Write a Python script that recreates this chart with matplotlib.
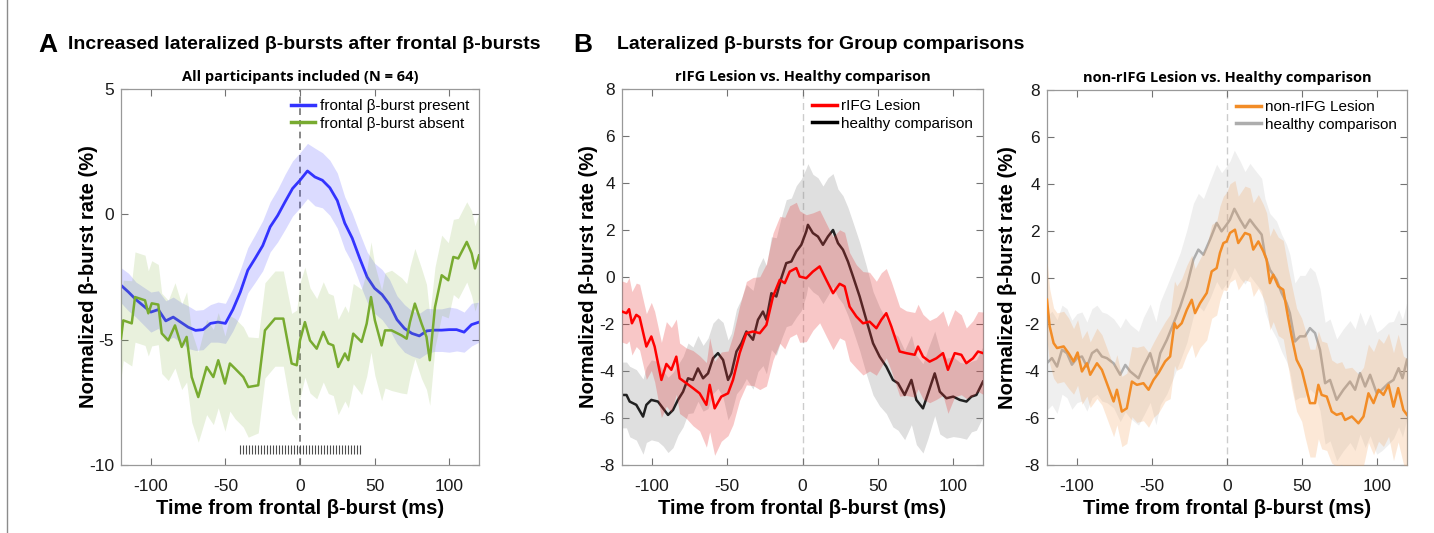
import numpy as np
import matplotlib
matplotlib.use("Agg")
import matplotlib.pyplot as plt
from matplotlib.lines import Line2D

plt.rcParams['font.family'] = ['Liberation Sans', 'DejaVu Sans']
plt.rcParams['axes.unicode_minus'] = False

# ---------------- Panel A data ----------------
tA_blue = list(range(-120, 121, 5))
blue_mean = [-2.83,-3.1,-3.4,-3.65,-3.9,-3.8,-4.25,-4.1,-4.3,-4.5,
             -4.63,-4.6,-4.35,-4.3,-4.35,-3.8,-3.1,-2.23,-1.75,-1.25,
             -0.5,-0.05,0.5,1.03,1.36,1.73,1.49,1.36,1.06,0.55,
             -0.35,-0.95,-1.75,-2.5,-2.95,-3.2,-3.6,-4.2,-4.55,-4.75,
             -4.85,-4.65,-4.62,-4.62,-4.6,-4.6,-4.7,-4.4,-4.3]
blue_err = [0.7,0.75,0.7,0.75,0.8,0.75,0.8,0.8,0.8,0.85,0.8,0.8,0.75,0.8,0.8,
            0.85,0.9,0.9,0.95,1.0,1.0,1.05,1.1,1.1,1.1,
            1.1,1.15,1.1,1.1,1.1,1.05,1.0,1.0,1.0,1.0,
            1.0,1.0,0.95,0.95,0.9,0.9,0.9,0.85,0.85,0.9,
            0.85,0.8,0.85,0.8]

tA_green = [-120,-118.5,-112.8,-110.6,-103.9,-101.7,-99.4,-95,-92.7,-88.3,
            -83.8,-79.3,-76,-72.6,-68.2,-62.6,-58.1,-54.8,-50.3,-47,
            -43.6,-38,-34.7,-28,-23.5,-16.8,-11.2,-5.6,-2.2,0,
            3.3,6.7,11.2,15.6,19,22.3,25.6,30.1,32.4,35.7,
            41.3,44.7,47.6,50.2,54.7,57,61.4,68.1,71.5,73.7,
            77,81.5,84.8,87,90.5,95,99.4,102.8,106.1,111.8,
            115.1,117.3,120]
green_mean = [-4.95,-4.23,-4.35,-3.3,-3.43,-3.95,-3.55,-3.6,-4.75,-5.03,
              -4.43,-5.29,-4.89,-6.49,-7.29,-6.09,-6.49,-5.82,-6.75,-5.95,
              -6.15,-6.49,-6.89,-6.82,-4.63,-4.16,-4.16,-5.95,-6.02,-5.03,
              -4.3,-5.03,-5.36,-4.69,-5.15,-5.23,-6.09,-5.55,-5.82,-4.76,
              -5.09,-4.36,-3.3,-4.23,-5.23,-4.63,-4.63,-4.83,-4.96,-4.3,
              -3.56,-4.36,-4.89,-5.82,-3.7,-2.43,-2.63,-1.7,-1.76,-1.1,
              -1.56,-2.16,-1.64]
green_err = [1.6,1.6,1.7,1.8,1.8,1.7,1.7,1.6,1.6,1.6,
             1.7,1.7,1.8,1.8,1.8,1.9,1.9,1.9,1.9,1.9,
             2.0,2.0,2.0,1.9,1.9,1.9,1.9,2.0,2.2,2.3,
             2.2,2.1,2.0,2.0,2.0,2.0,1.9,1.9,1.9,2.0,
             2.1,2.1,2.2,2.2,2.2,2.3,2.4,2.3,2.2,2.2,
             2.2,2.2,2.1,1.8,1.6,1.6,1.5,1.5,1.6,1.6,
             1.7,1.7,1.7]
sig_start, sig_end, sig_step = -40, 38, 2
sig_extra = [40]

# ---------------- Panel B1 data ----------------
t_red = [-120,-117,-115.3,-113.4,-110.5,-108.3,-103.8,-100.5,-98.3,-93.8,
         -90.5,-87.2,-83.9,-81.7,-77.2,-72.8,-68.4,-63.9,-61.7,-58.4,
         -54,-49.5,-46.2,-41.8,-37.3,-32.9,-28.4,-24,-19.6,-15.1,
         -11.8,-8.5,-4.1,-1.9,2.5,6.9,11.4,15.8,20.3,24.7,
         28,31.3,35.8,40.2,44.6,49.1,52.4,55.7,59.1,64.6,
         69,74.6,76.8,80.1,84.5,89,93.4,96.7,101.2,105.6,
         108.9,113.3,116.7,120]
red_mean = [-1.47,-1.54,-1.37,-1.97,-1.61,-1.71,-2.96,-2.53,-2.96,-4.38,
            -3.7,-3.95,-3.39,-4.31,-4.52,-4.73,-4.95,-5.44,-4.59,-5.59,
            -5.09,-4.95,-4.38,-3.24,-2.39,-2.32,-2.39,-2.04,-0.83,-0.12,
            -0.26,0.23,0.38,0.02,-0.05,0.23,0.45,-0.12,-0.69,-0.29,
            -0.4,-1.26,-1.68,-1.97,-1.9,-2.18,-1.82,-1.54,-2.11,-3.17,
            -3.24,-3.31,-2.96,-3.39,-3.6,-3.46,-3.24,-3.95,-3.24,-3.31,
            -3.67,-3.46,-3.17,-3.24]
red_err = [1.3,1.3,1.35,1.35,1.35,1.4,1.4,1.45,1.5,1.6,
           1.8,1.8,1.6,1.5,1.5,1.6,1.6,1.8,2.0,2.0,
           1.9,1.8,1.9,2.0,2.2,2.3,2.4,2.6,2.7,2.7,
           2.8,2.8,2.8,2.8,2.7,2.5,2.4,2.4,2.4,2.3,
           2.3,2.3,2.2,2.2,2.1,2.0,2.0,1.9,1.9,1.9,
           1.8,1.8,1.8,1.8,1.75,1.75,1.8,1.85,1.85,1.7,
           1.5,1.6,1.7,1.75]

t_blk = [-120,-117,-114.9,-110.5,-106,-103.8,-100.5,-96.1,-92.7,-89.4,
         -86.1,-82.8,-79.4,-76.1,-72.8,-69.5,-66.1,-62.8,-59.5,-56.2,
         -52.8,-49.5,-47.3,-43.9,-40.6,-37.3,-32.9,-29.6,-26.3,-24,
         -20.7,-17.4,-14.1,-10.8,-7.4,-4.1,-0.8,2.5,3.6,6.9,
         10.3,13.6,16.9,20.3,23.6,26.9,30.2,33.6,38,42.4,
         46.9,51.3,55.7,60.1,63.5,67.9,72.4,75.7,80.1,83.5,
         87.9,91.3,95.7,100.2,104.6,109,112.3,115.6,120]
blk_mean = [-5.02,-5.02,-5.3,-5.44,-5.94,-5.44,-5.23,-5.3,-5.59,-5.87,
            -5.66,-5.23,-4.88,-4.31,-4.38,-3.89,-4.31,-4.1,-3.46,-3.24,
            -3.53,-4.38,-4.1,-3.17,-2.82,-2.32,-2.67,-1.82,-1.47,-1.82,
            -0.69,-0.83,-0.05,0.59,0.66,1.09,1.37,1.94,2.22,1.87,
            1.72,1.37,1.72,2.0,1.44,1.16,0.66,0.02,-0.83,-1.82,
            -2.82,-3.39,-3.81,-4.38,-4.52,-5.02,-4.38,-5.23,-5.59,-4.95,
            -4.1,-4.88,-5.16,-5.09,-5.23,-5.3,-5.09,-5.02,-4.45]
blk_err = [1.4,1.4,1.5,1.5,1.6,1.6,1.7,1.7,1.6,1.6,
           1.6,1.5,1.5,1.5,1.4,1.4,1.4,1.5,1.5,1.5,
           1.6,1.7,1.7,1.8,1.9,2.0,2.1,2.2,2.3,2.3,
           2.4,2.5,2.6,2.7,2.7,2.8,2.8,2.7,2.6,2.5,
           2.5,2.5,2.5,2.4,2.3,2.3,2.3,2.3,2.3,2.3,
           2.2,2.1,2.0,2.0,2.0,1.9,1.9,1.9,1.9,1.9,
           1.8,1.8,1.7,1.7,1.6,1.6,1.5,1.5,1.5]

# ---------------- Panel B2 data ----------------
t_org = [-120,-118.2,-115.6,-113.3,-108.9,-105.6,-102.3,-99.6,-96.7,-93.4,
         -91.2,-86.7,-83.4,-80.1,-75.6,-73.4,-70.1,-66.8,-63.4,-60.1,
         -55.7,-52.3,-49,-45.7,-41.2,-37.9,-35,-33.5,-30.2,-26.8,
         -23.5,-21.3,-18,-13.5,-10.2,-6.9,-4.7,-2.4,-0.2,2,
         5.3,7.5,12,15.3,17.5,20.9,24.2,26.4,28.6,30.8,
         34.2,37.5,40.8,43.1,46.4,49.8,52,55.3,58.7,60.9,
         63.1,66.5,69.8,73.1,76.5,78.7,83.2,87.6,91,94.3,
         97.7,101,104.3,107.7,111,114.1,117.6,120]
org_mean = [-0.95,-2.09,-2.8,-3.01,-2.94,-3.23,-3.58,-3.2,-4.01,-3.66,
            -4.15,-3.66,-3.94,-4.51,-5.29,-4.79,-5.72,-5.58,-4.44,-4.58,
            -4.51,-4.79,-4.37,-4.08,-3.58,-3.37,-1.95,-2.16,-1.95,-1.38,
            -0.95,-1.52,-1.1,-0.66,0.26,0.4,1.05,1.47,1.54,1.9,
            2.04,1.47,1.9,1.82,1.19,1.54,1.12,0.76,-0.24,0.12,
            -0.38,-0.52,-1.73,-2.51,-3.51,-3.94,-4.51,-5.36,-5.36,-4.58,
            -5.01,-5.08,-5.72,-5.86,-5.79,-6.08,-5.93,-6.22,-5.93,-4.94,
            -5.36,-4.79,-5.01,-4.58,-5.51,-4.72,-5.65,-5.86]
org_err = [1.7,1.6,1.5,1.5,1.5,1.5,1.4,1.4,1.4,1.4,
           1.4,1.5,1.5,1.5,1.5,1.5,1.5,1.5,1.5,1.6,
           1.6,1.6,1.6,1.7,1.7,1.8,1.8,1.8,1.9,1.9,
           1.9,1.9,1.9,2.0,2.0,2.0,2.0,2.0,2.1,2.1,
           2.1,2.0,2.0,2.0,2.0,2.0,2.0,2.0,2.0,2.0,
           2.1,2.1,2.1,2.2,2.2,2.2,2.3,2.3,2.3,2.3,
           2.3,2.3,2.2,2.2,2.2,2.2,2.1,2.1,2.1,2.1,
           2.2,2.2,2.2,2.2,2.3,2.3,2.3,2.4]

t_gry = [-120,-116.7,-113.3,-110,-106.7,-103.4,-100,-96.7,-93.4,-90,
         -86.7,-83.4,-80.1,-75.6,-71.2,-67.8,-64.5,-59,-55.7,-51.2,
         -47.4,-44.5,-40.1,-35.6,-31.2,-26.8,-22.4,-19.1,-15.7,-11.3,
         -6.9,-3.6,-0.2,2,4.9,8.7,12,15.3,18.6,23.1,
         25.3,28.6,33,36.4,39.7,41.9,45.3,48.6,52,55.3,
         58.7,62,65.4,68.7,73.1,77.6,82,85.4,88.7,92.1,
         95.4,99.8,103.2,107.7,111,114.4,117,120]
gry_mean = [-3.65,-3.44,-3.8,-3.08,-3.23,-3.72,-3.44,-3.37,-3.8,-3.23,
            -3.08,-3.37,-3.44,-3.66,-4.15,-3.73,-4.01,-4.3,-3.8,-3.23,
            -4.08,-3.23,-2.66,-1.95,-1.24,-0.38,0.76,1.19,0.97,1.62,
            2.33,1.97,2.26,2.47,2.93,2.47,2.12,2.47,2.19,1.83,
            0.97,0.33,-0.09,-0.66,-1.09,-1.52,-2.73,-2.51,-2.51,-2.16,
            -2.37,-3.08,-4.51,-4.37,-5.22,-4.79,-4.44,-4.79,-4.08,-4.65,
            -4.15,-4.94,-4.79,-4.51,-4.37,-3.87,-4.3,-3.51]
gry_err = [2.0,2.0,2.0,1.9,1.9,1.9,1.9,1.9,1.9,1.9,
           1.9,1.9,1.9,1.9,2.0,2.0,2.0,2.0,2.1,2.1,
           2.2,2.2,2.3,2.3,2.3,2.4,2.4,2.4,2.4,2.5,
           2.5,2.5,2.5,2.5,2.5,2.5,2.4,2.4,2.4,2.4,
           2.4,2.4,2.5,2.5,2.5,2.5,2.5,2.6,2.6,2.6,
           2.6,2.6,2.6,2.6,2.6,2.6,2.6,2.6,2.6,2.6,
           2.6,2.6,2.6,2.6,2.5,2.5,2.5,2.5]

x_ticks = [-100, -50, 0, 50, 100]

# ---------------- Figure ----------------
W, H = 1434, 533
fig = plt.figure(figsize=(W / 100, H / 100), dpi=100)


def px_axes(left, top, right, bottom):
    return fig.add_axes([left / W, 1 - bottom / H, (right - left) / W, (bottom - top) / H])


def style(ax, ylim, yticks, zero_color, zero_lw, dash, ylab_x):
    ax.set_xlim(-120, 120)
    ax.set_ylim(*ylim)
    ax.set_xticks(x_ticks)
    ax.set_xticklabels([str(v) for v in x_ticks])
    ax.set_yticks(yticks)
    ax.set_yticklabels([str(v) for v in yticks])
    ax.tick_params(direction='in', top=True, right=True, length=5, width=0.8,
                   color='0.45', labelsize=12.5, labelcolor='0.1')
    ax.tick_params(axis='x', pad=10)
    ax.tick_params(axis='y', pad=5)
    for s in ax.spines.values():
        s.set_color('0.6')
        s.set_linewidth(0.9)
    ax.axvline(0, color=zero_color, lw=zero_lw, dashes=dash, zorder=1)
    ax.set_xlabel('Time from frontal β-burst (ms)', fontsize=14.5, fontweight='bold', labelpad=4)
    ax.set_ylabel('Normalized β-burst rate (%)', fontsize=14.5, fontweight='bold')
    ax.yaxis.set_label_coords(ylab_x, 0.5)


def shaded(ax, t, m, e, lc, fc, falpha, z, lw=1.8, lalpha=1.0, label=None):
    t = np.asarray(t, float); m = np.asarray(m, float); e = np.asarray(e, float)
    ax.fill_between(t, m - e, m + e, color=fc, alpha=falpha, lw=0, zorder=z)
    ax.plot(t, m, color=lc, lw=lw, alpha=lalpha, zorder=z + 0.5, label=label)


# Panel A
axA = px_axes(121, 89, 479, 465)
style(axA, (-10, 5), [-10, -5, 0, 5], '0.45', 1.2, (4, 3), (98 - 121) / 358)
shaded(axA, tA_blue, blue_mean, blue_err, (0.2, 0.2, 1.0), (0.3, 0.3, 1.0), 0.2, 2, lw=2.0,
       label='frontal β-burst present')
shaded(axA, tA_green, green_mean, green_err, (0.47, 0.67, 0.19), (0.47, 0.67, 0.19), 0.16, 3, lw=1.8,
       label='frontal β-burst absent')
sig_t = list(np.arange(sig_start, sig_end + 1, sig_step)) + sig_extra
axA.vlines(sig_t, -9.55, -9.2, color='0.3', lw=0.8, zorder=4)
axA.set_title('All participants included (N = 64)', fontsize=10.5, fontweight='bold',
              family=['Open Sans', 'DejaVu Sans'], pad=6)
legA = axA.legend(loc='upper right', frameon=False, fontsize=11, handlelength=1.6,
                  handletextpad=0.3, labelspacing=0.25, borderaxespad=0.25)
for h in legA.get_lines():
    h.set_linewidth(2.5); h.set_alpha(1)

# Panel B1
axB1 = px_axes(622, 89, 983, 465)
style(axB1, (-8, 8), list(range(-8, 9, 2)), '0.8', 1.0, (5, 3), (598 - 622) / 361)
shaded(axB1, t_blk, blk_mean, blk_err, (0.13, 0.13, 0.13), (0.55, 0.55, 0.55), 0.28, 2, lw=1.8,
       label='healthy comparison')
shaded(axB1, t_red, red_mean, red_err, (1.0, 0.0, 0.0), (0.9, 0.2, 0.2), 0.27, 3, lw=1.8,
       label='rIFG Lesion')
axB1.set_title('rIFG Lesion vs. Healthy comparison', fontsize=10.5, fontweight='bold',
               family=['Open Sans', 'DejaVu Sans'], pad=6)
hB1 = [Line2D([], [], color=(1.0, 0.0, 0.0), lw=2.5), Line2D([], [], color='black', lw=2.5)]
axB1.legend(hB1, ['rIFG Lesion', 'healthy comparison'], loc='upper right', frameon=False,
            fontsize=11, handlelength=1.6, handletextpad=0.3, labelspacing=0.25, borderaxespad=0.25)

# Panel B2
axB2 = px_axes(1047, 90, 1407, 465)
style(axB2, (-8, 8), list(range(-8, 9, 2)), '0.8', 1.0, (5, 3), (1017 - 1047) / 360)
shaded(axB2, t_gry, gry_mean, gry_err, (0.68, 0.68, 0.68), (0.72, 0.72, 0.72), 0.22, 2, lw=1.8,
       label='healthy comparison')
shaded(axB2, t_org, org_mean, org_err, (0.95, 0.55, 0.15), (0.95, 0.6, 0.3), 0.22, 3, lw=1.8,
       label='non-rIFG Lesion')
axB2.set_title('non-rIFG Lesion vs. Healthy comparison', fontsize=10.5, fontweight='bold',
               family=['Open Sans', 'DejaVu Sans'], pad=6)
hB2 = [Line2D([], [], color=(0.95, 0.55, 0.15), lw=2.5), Line2D([], [], color=(0.68, 0.68, 0.68), lw=2.5)]
axB2.legend(hB2, ['non-rIFG Lesion', 'healthy comparison'], loc='upper right', frameon=False,
            fontsize=11, handlelength=1.6, handletextpad=0.3, labelspacing=0.25, borderaxespad=0.25)

# Headings
fig.text(38 / W, 1 - 45 / H, 'A', fontsize=19, fontweight='bold', va='center', ha='left')
fig.text(68 / W, 1 - 45 / H, 'Increased lateralized β-bursts after frontal β-bursts',
         fontsize=14, fontweight='bold', va='center', ha='left')
fig.text(573 / W, 1 - 45 / H, 'B', fontsize=19, fontweight='bold', va='center', ha='left')
fig.text(617 / W, 1 - 45 / H, 'Lateralized β-bursts for Group comparisons',
         fontsize=14, fontweight='bold', va='center', ha='left')

fig.add_artist(Line2D([7 / W, 7 / W], [0, 1], color='0.55', lw=1.0, transform=fig.transFigure))

fig.savefig('out.png', dpi=100)
